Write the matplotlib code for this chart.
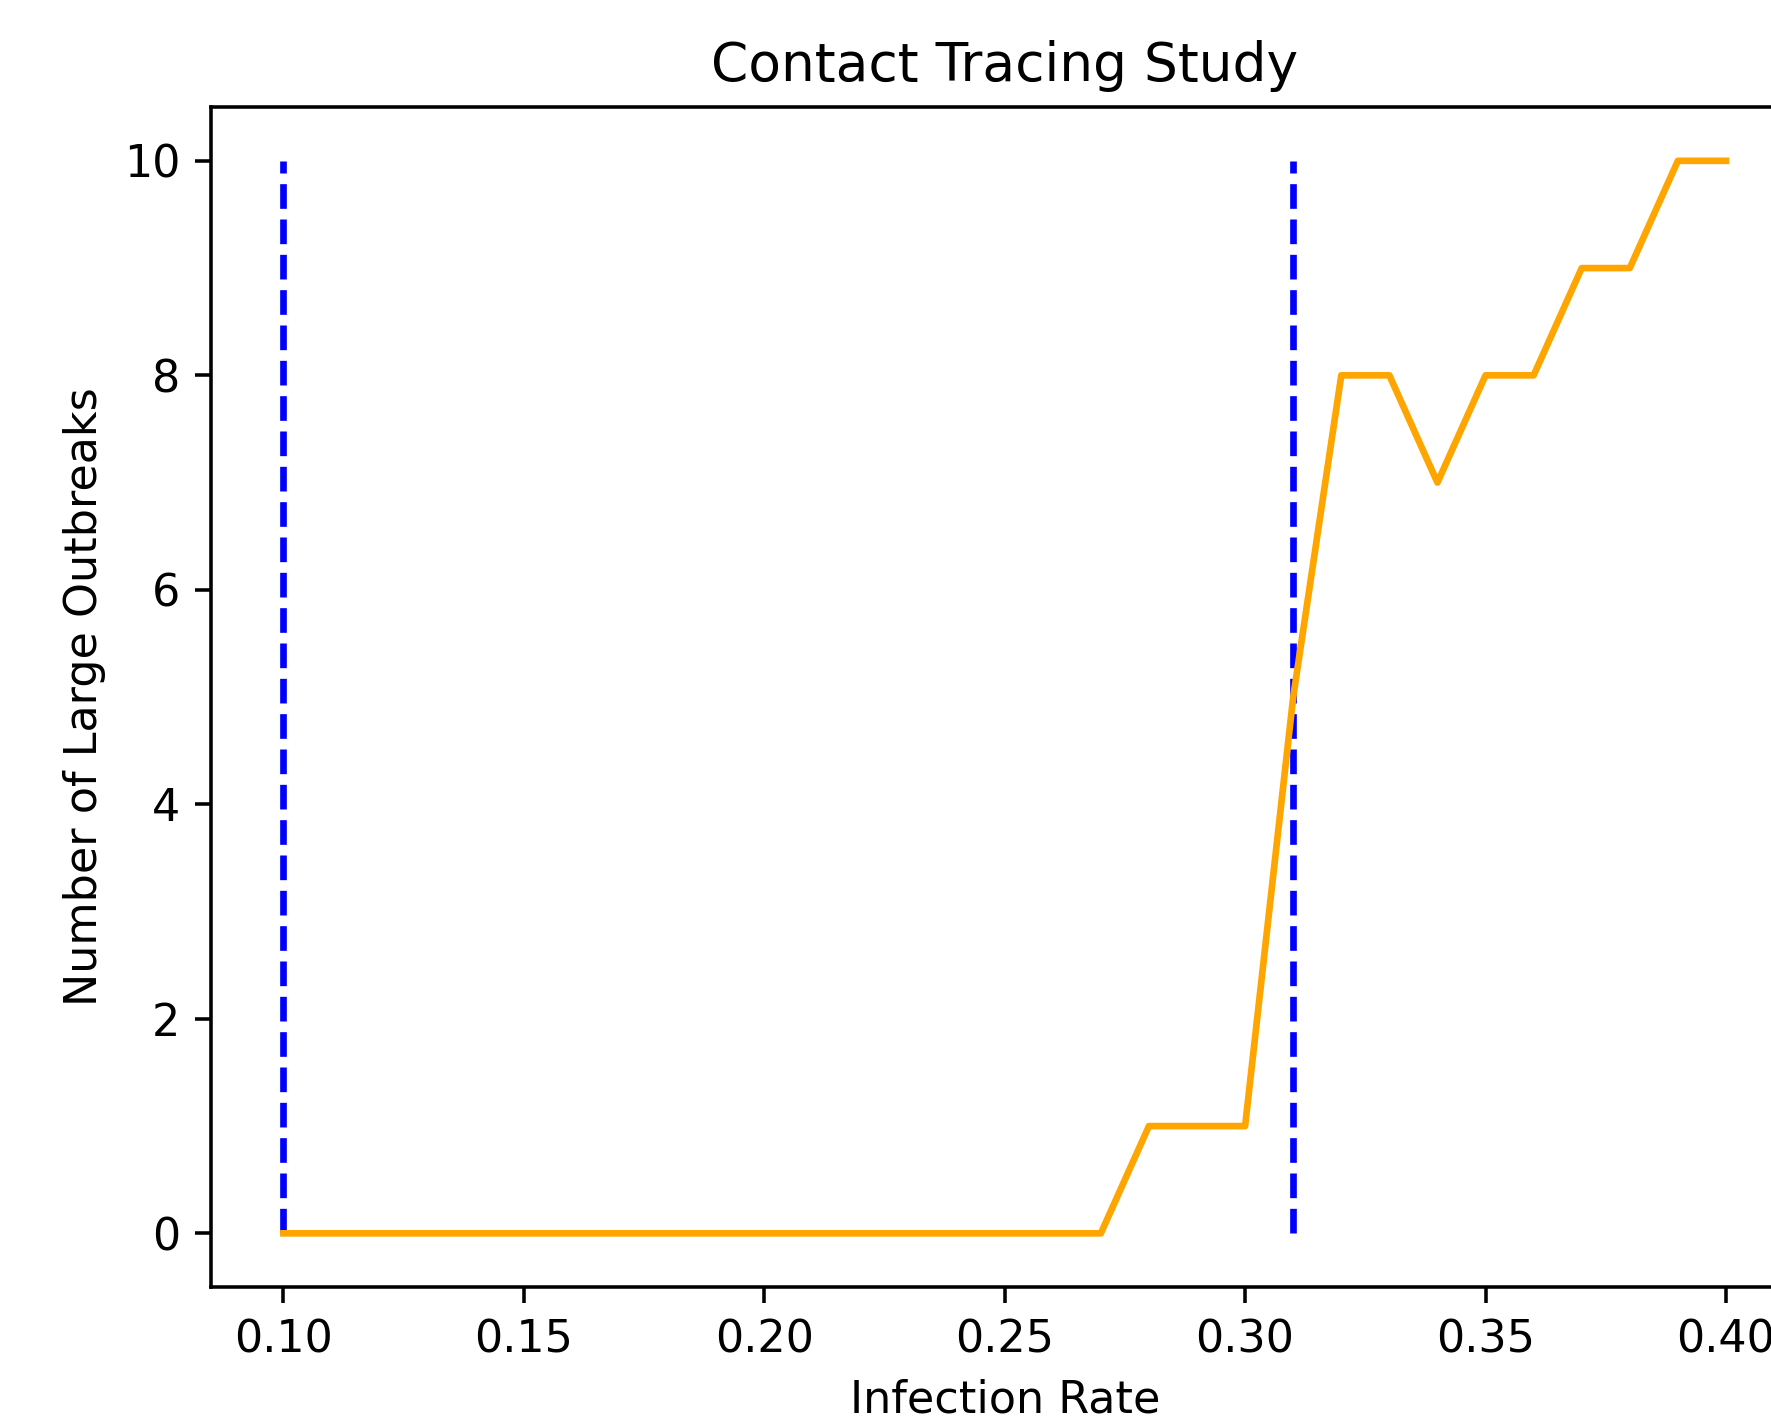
import matplotlib
matplotlib.use("Agg")
import matplotlib.pyplot as plt

infection_rate = [0.10, 0.11, 0.12, 0.13, 0.14, 0.15, 0.16, 0.17, 0.18, 0.19,
                  0.20, 0.21, 0.22, 0.23, 0.24, 0.25, 0.26, 0.27, 0.28, 0.29,
                  0.30, 0.31, 0.32, 0.33, 0.34, 0.35, 0.36, 0.37, 0.38, 0.39, 0.40]
large_outbreaks = [0, 0, 0, 0, 0, 0, 0, 0, 0, 0,
                   0, 0, 0, 0, 0, 0, 0, 0, 1, 1,
                   1, 5, 8, 8, 7, 8, 8, 9, 9, 10, 10]
marker_rates = [0.10, 0.31]
marker_ymin = 0
marker_ymax = 10

DPI = 320
fig = plt.figure(figsize=(1771 / DPI, 1418 / DPI), dpi=DPI)
ax = fig.add_axes([0.1193, 0.0924, 0.896, 0.832])

ax.vlines(marker_rates, marker_ymin, marker_ymax, colors="blue", linestyles="dashed")
ax.plot(infection_rate, large_outbreaks, color="orange")

ax.set_title("Contact Tracing Study")
ax.set_xlabel("Infection Rate")
ax.set_ylabel("Number of Large Outbreaks")

fig.savefig("out.png", dpi=DPI)
